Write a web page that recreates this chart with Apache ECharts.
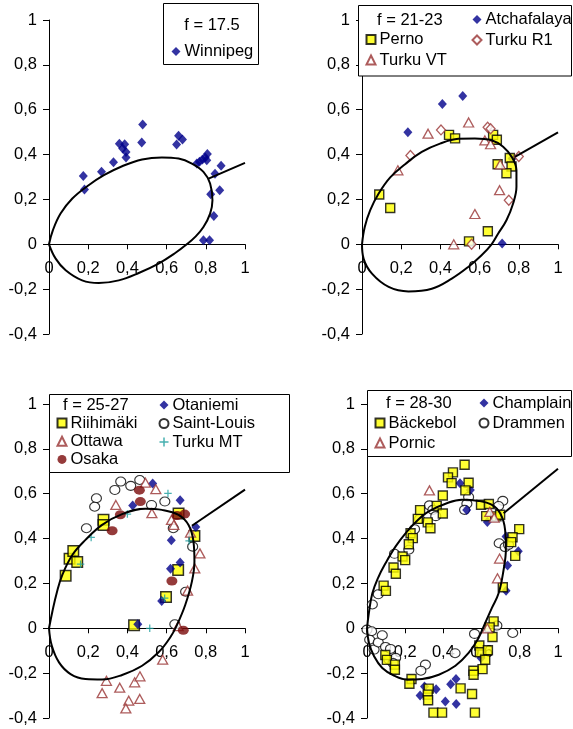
<!DOCTYPE html>
<html>
<head>
<meta charset="utf-8">
<script src="https://cdn.jsdelivr.net/npm/echarts@6/dist/echarts.min.js"></script>
<style>
  html, body { margin: 0; padding: 0; background: #fff; }
  #chart { width: 573px; height: 729px; }
</style>
</head>
<body>
<div id="chart"></div>
<script>
// tick labels of every panel
var xTicks = [0, 0.2, 0.4, 0.6, 0.8, 1];
var yTicks = [-0.4, -0.2, 0, 0.2, 0.4, 0.6, 0.8, 1];
var titles = ['f = 17.5', 'f = 21-23', 'f = 25-27', 'f = 28-30'];

// f = 17.5
var winnipeg = [[0.175,0.304],[0.181,0.244],[0.268,0.323],[0.329,0.366],[0.359,0.448],[0.386,0.446],[0.376,0.427],
  [0.393,0.412],[0.393,0.387],[0.473,0.454],[0.478,0.534],[0.651,0.445],[0.661,0.484],[0.681,0.467],[0.754,0.360],
  [0.768,0.368],[0.783,0.378],[0.797,0.387],[0.808,0.402],[0.805,0.375],[0.847,0.315],[0.878,0.350],[0.825,0.223],
  [0.871,0.241],[0.841,0.126],[0.788,0.018],[0.819,0.018]];
var curve1 = [[0,0],[0.02,0.063],[0.059,0.137],[0.119,0.204],[0.195,0.259],[0.28,0.308],[0.373,0.348],[0.475,0.378],
  [0.576,0.387],[0.661,0.382],[0.729,0.36],[0.788,0.323],[0.822,0.271],[0.834,0.196],[0.822,0.137],[0.788,0.077],
  [0.746,0.033],[0.703,0],[0.644,-0.039],[0.559,-0.086],[0.458,-0.128],[0.356,-0.161],[0.254,-0.173],[0.169,-0.161],
  [0.085,-0.116],[0.034,-0.064],[0,0]];
var tail1 = [[0.814,0.293],[1,0.363]];

// f = 21-23
var atchafalaya = [[0.234,0.5],[0.41,0.626],[0.514,0.661],[0.715,0.004],[0.766,0.382]];
var perno = [[0.088,0.222],[0.144,0.162],[0.444,0.488],[0.475,0.472],[0.669,0.488],[0.688,0.466],[0.754,0.385],
  [0.692,0.357],[0.763,0.347],[0.737,0.317],[0.642,0.058],[0.546,0.013]];
var turkuR1 = [[0.247,0.396],[0.403,0.51],[0.641,0.522],[0.656,0.515],[0.8,0.391],[0.749,0.196],[0.559,0]];
var turkuVT = [[0.183,0.33],[0.337,0.493],[0.544,0.543],[0.627,0.463],[0.656,0.446],[0.705,0.356],[0.702,0.241],
  [0.576,0.135],[0.468,0]];
var curve2 = [[0,0],[0.014,0.077],[0.042,0.152],[0.085,0.226],[0.144,0.298],[0.22,0.357],[0.305,0.412],[0.398,0.449],
  [0.492,0.47],[0.576,0.472],[0.661,0.464],[0.72,0.435],[0.766,0.387],[0.788,0.33],[0.788,0.256],[0.771,0.182],
  [0.737,0.107],[0.695,0.048],[0.661,0],[0.61,-0.049],[0.542,-0.101],[0.458,-0.153],[0.356,-0.198],[0.237,-0.21],
  [0.136,-0.19],[0.051,-0.131],[0.008,-0.064],[0,0]];
var tail2 = [[0.78,0.39],[1,0.499]];

// f = 25-27
var riihimaki = [[0.085,0.234],[0.105,0.31],[0.124,0.345],[0.144,0.295],[0.278,0.484],[0.278,0.461],[0.661,0.512],
  [0.742,0.412],[0.659,0.26],[0.597,0.14],[0.434,0.013]];
var otaniemi = [[0.529,0.646],[0.427,0.548],[0.669,0.571],[0.749,0.452],[0.624,0.393],[0.669,0.293],[0.62,0.265],
  [0.575,0.122],[0.453,0.018]];
var saintLouis = [[0.366,0.654],[0.336,0.617],[0.417,0.635],[0.463,0.661],[0.242,0.58],[0.233,0.542],[0.191,0.446],
  [0.523,0.55],[0.591,0.565],[0.634,0.446],[0.733,0.364],[0.697,0.163],[0.642,0.018]];
var ottawa = [[0.492,0.649],[0.545,0.62],[0.341,0.55],[0.525,0.513],[0.625,0.483],[0.637,0.461],[0.722,0.426],
  [0.77,0.334],[0.744,0.267],[0.707,0.168],[0.659,0.01],[0.58,-0.14],[0.293,-0.234],[0.271,-0.289],[0.361,-0.265],
  [0.437,-0.241],[0.464,-0.214],[0.463,-0.315],[0.407,-0.323],[0.392,-0.357]];
var turkuMT = [[0.607,0.601],[0.4,0.509],[0.215,0.405],[0.161,0.286],[0.715,0.39],[0.59,0.134],[0.514,0]];
var osaka = [[0.461,0.616],[0.466,0.565],[0.364,0.506],[0.322,0.435],[0.653,0.503],[0.692,0.509],[0.627,0.211],
  [0.685,-0.009]];
var curve3 = [[0,0],[0.017,0.074],[0.04,0.16],[0.068,0.238],[0.119,0.327],[0.186,0.394],[0.271,0.461],[0.373,0.509],
  [0.492,0.533],[0.576,0.528],[0.661,0.506],[0.712,0.461],[0.737,0.387],[0.742,0.298],[0.729,0.208],[0.695,0.104],
  [0.653,0.015],[0.619,-0.04],[0.559,-0.107],[0.475,-0.167],[0.373,-0.208],[0.271,-0.228],[0.186,-0.226],
  [0.11,-0.204],[0.051,-0.152],[0.014,-0.077],[0,0]];
var tail3 = [[0.729,0.457],[1,0.618]];

// f = 28-30
var backebol = [[0.511,0.729],[0.45,0.695],[0.424,0.673],[0.443,0.647],[0.532,0.649],[0.515,0.615],[0.397,0.592],
  [0.365,0.546],[0.278,0.527],[0.397,0.512],[0.266,0.488],[0.318,0.472],[0.332,0.446],[0.228,0.424],[0.24,0.402],
  [0.219,0.375],[0.186,0.32],[0.2,0.304],[0.139,0.271],[0.151,0.243],[0.087,0.19],[0.099,0.167],[0.597,0.551],
  [0.638,0.554],[0.624,0.5],[0.678,0.499],[0.697,0.506],[0.797,0.442],[0.762,0.406],[0.755,0.384],[0.776,0.323],
  [0.711,0.183],[0.663,0.031],[0.642,0.004],[0.657,-0.039],[0.588,-0.077],[0.591,-0.107],[0.633,-0.098],
  [0.619,-0.14],[0.605,-0.182],[0.557,-0.189],[0.558,-0.207],[0.49,-0.268],[0.55,-0.293],[0.565,-0.376],
  [0.233,-0.226],[0.222,-0.247],[0.323,-0.269],[0.318,-0.296],[0.32,-0.321],[0.348,-0.376],[0.393,-0.376],
  [0.096,-0.119],[0.104,-0.141],[0.146,-0.162],[0.146,-0.185]];
var champlain = [[0.487,0.647],[0.541,0.617],[0.522,0.527],[0.63,0.474],[0.728,0.409],[0.792,0.344],[0.736,0.28],
  [0.728,0.167],[0.278,-0.3],[0.301,-0.26],[0.362,-0.272],[0.438,-0.249],[0.466,-0.226],[0.41,-0.326],
  [0.467,-0.338],[0.597,-0.133]];
var drammen = [[0.711,0.568],[0.689,0.545],[0.532,0.585],[0.523,0.555],[0.511,0.528],[0.327,0.548],[0.345,0.528],
  [0.36,0.5],[0.275,0.487],[0.249,0.442],[0.219,0.35],[0.144,0.332],[0.059,0.152],[0.028,0.106],[0.692,0.379],
  [0.723,0.362],[0.741,0.372],[0,-0.006],[0.024,-0.013],[0.014,-0.051],[0.037,-0.095],[0.059,-0.063],[0.08,-0.031],
  [0.097,-0.083],[0.123,-0.092],[0.115,-0.14],[0.15,-0.132],[0.136,-0.155],[0.306,-0.162],[0.282,-0.189],
  [0.461,-0.111],[0.563,-0.025],[0.68,0.012],[0.763,-0.021]];
var pornic = [[0.327,0.615],[0.643,0.519],[0.666,0.493],[0.694,0.311],[0.683,0.223],[0.63,0]];
var curve4 = [[0,0],[0.01,0.07],[0.028,0.156],[0.058,0.225],[0.097,0.29],[0.15,0.365],[0.21,0.432],[0.265,0.482],
  [0.323,0.521],[0.428,0.561],[0.497,0.573],[0.584,0.568],[0.652,0.551],[0.697,0.513],[0.723,0.439],[0.727,0.35],
  [0.715,0.26],[0.689,0.156],[0.654,0.091],[0.619,0.024],[0.584,-0.043],[0.532,-0.11],[0.463,-0.167],
  [0.376,-0.207],[0.289,-0.226],[0.21,-0.229],[0.141,-0.211],[0.08,-0.177],[0.037,-0.125],[0.01,-0.065],[0,0]];
var tail4 = [[0.715,0.513],[1,0.711]];

var FONT = 'Liberation Sans, Arial, sans-serif';
var FS = 16.5;
var NAVY = '#00008b', DRED = '#993333', MAROON = '#7a0a0a', TEAL = '#1a9c9c';
var PLUS = 'path://M3,0H4.2V3H7.2V4.2H4.2V7.2H3V4.2H0V3H3Z';

// symbol looks
var sty = {
  navy:   { symbol: 'diamond', symbolSize: [9, 10], itemStyle: { color: NAVY } },
  square: { symbol: 'rect', symbolSize: 9, itemStyle: { color: '#ffff00', borderColor: '#000', borderWidth: 1.4 } },
  bigsq:  { symbol: 'rect', symbolSize: 10.5, itemStyle: { color: '#ffff00', borderColor: '#000', borderWidth: 1.5 } },
  odiam:  { symbol: 'diamond', symbolSize: [9, 10], itemStyle: { color: '#fff', borderColor: DRED, borderWidth: 1.3 } },
  tri:    { symbol: 'triangle', symbolSize: [10, 9], itemStyle: { color: '#fff', borderColor: DRED, borderWidth: 1.3 } },
  ocirc:  { symbol: 'circle', symbolSize: [10, 9], itemStyle: { color: '#fff', borderColor: '#000', borderWidth: 1.1 } },
  osaka:  { symbol: 'circle', symbolSize: [11, 9], itemStyle: { color: MAROON } },
  plus:   { symbol: PLUS, symbolSize: 7.5, itemStyle: { color: TEAL } }
};

function scatter(name, data, idx, look) {
  var s = sty[look];
  return { name: name, type: 'scatter', xAxisIndex: idx, yAxisIndex: idx, data: data,
    symbol: s.symbol, symbolSize: s.symbolSize, itemStyle: s.itemStyle };
}
function curve(data, idx, smooth) {
  return { type: 'line', xAxisIndex: idx, yAxisIndex: idx, data: data, smooth: smooth,
    showSymbol: false, silent: true, lineStyle: { color: '#000', width: 2 } };
}

var grids = [
  { left: 49, top: 20, width: 196, height: 314 },
  { left: 362, top: 20, width: 196, height: 314 },
  { left: 49, top: 404, width: 196, height: 314 },
  { left: 367, top: 404, width: 191, height: 314 }
];

function fmt(v) { return String(Math.round(v * 10) / 10).replace('.', ','); }

var yMin = yTicks[0], yMax = yTicks[yTicks.length - 1];
var xAxes = [], yAxes = [];
grids.forEach(function (g, i) {
  // x axis crosses at y = 0: shift the bottom axis up to the zero line
  var zeroShift = -g.height * (0 - yMin) / (yMax - yMin);
  xAxes.push({ type: 'value', gridIndex: i, min: xTicks[0], max: xTicks[xTicks.length - 1], interval: 0.2,
    offset: zeroShift,
    axisLine: { onZero: false, lineStyle: { color: '#000', width: 1 } },
    axisTick: { length: 5, lineStyle: { color: '#000' } },
    axisLabel: { margin: 16, fontSize: FS, fontFamily: FONT, color: '#000', formatter: fmt },
    splitLine: { show: false } });
  yAxes.push({ type: 'value', gridIndex: i, min: yMin, max: yMax, interval: 0.2,
    axisLine: { show: true, lineStyle: { color: '#000', width: 1 } },
    axisTick: { show: true, length: 6, lineStyle: { color: '#000' } },
    axisLabel: { margin: 12, fontSize: FS, fontFamily: FONT, color: '#000', formatter: fmt },
    splitLine: { show: false } });
});

var series = [
  curve(curve1, 0, 0.4), curve(tail1, 0, false),
  scatter('Winnipeg', winnipeg, 0, 'navy'),

  curve(curve2, 1, 0.4), curve(tail2, 1, false),
  scatter('Atchafalaya', atchafalaya, 1, 'navy'),
  scatter('Perno', perno, 1, 'square'),
  scatter('Turku R1', turkuR1, 1, 'odiam'),
  scatter('Turku VT', turkuVT, 1, 'tri'),

  curve(curve3, 2, 0.4), curve(tail3, 2, false),
  scatter('Saint-Louis', saintLouis, 2, 'ocirc'),
  scatter('Riihimäki', riihimaki, 2, 'bigsq'),
  scatter('Otaniemi', otaniemi, 2, 'navy'),
  scatter('Ottawa', ottawa, 2, 'tri'),
  scatter('Turku MT', turkuMT, 2, 'plus'),
  scatter('Osaka', osaka, 2, 'osaka'),

  curve(curve4, 3, 0.4), curve(tail4, 3, false),
  scatter('Drammen', drammen, 3, 'ocirc'),
  scatter('Champlain', champlain, 3, 'navy'),
  scatter('Bäckebol', backebol, 3, 'square'),
  scatter('Pornic', pornic, 3, 'tri')
];

function legend(names, left, top, gap) {
  return { data: names, orient: 'vertical', left: left, top: top, itemGap: gap, padding: 0, z: 110,
    itemWidth: 9, itemHeight: 9, selectedMode: false,
    textStyle: { fontSize: FS, fontFamily: FONT, color: '#000', lineHeight: 17, padding: [0, 0, 0, -1] } };
}

var legends = [
  legend(['Winnipeg'], 171.5, 43, 0),
  legend(['Perno', 'Turku VT'], 365.5, 31, 3.5),
  legend(['Atchafalaya', 'Turku R1'], 471.5, 11, 3.5),
  legend(['Riihimäki', 'Ottawa', 'Osaka'], 56.5, 414.5, 1.2),
  legend(['Otaniemi', 'Saint-Louis', 'Turku MT'], 158.5, 396.5, 1.5),
  legend(['Bäckebol', 'Pornic'], 374.5, 414.5, 3),
  legend(['Champlain', 'Drammen'], 478.5, 394.5, 3)
];

function box(x, y, w, h) {
  return { type: 'rect', z: 100, shape: { x: x, y: y, width: w, height: h },
    style: { fill: '#fff', stroke: '#000', lineWidth: 1 } };
}
function label(t, x, y, align) {
  return { type: 'text', z: 110, style: { text: t, x: x, y: y, align: align, verticalAlign: 'middle',
    font: FS + 'px ' + FONT, fill: '#000' } };
}

var chart = echarts.init(document.getElementById('chart'), null, { renderer: 'canvas' });
chart.setOption({
  animation: false,
  backgroundColor: '#fff',
  grid: grids,
  xAxis: xAxes,
  yAxis: yAxes,
  legend: legends,
  series: series,
  graphic: [
    box(163.5, 3.5, 95, 61), label(titles[0], 212, 25, 'center'),
    box(358.5, 5.5, 213, 70.5), label(titles[1], 377, 20, 'left'),
    box(49.5, 394.5, 240, 78), label(titles[2], 63, 405, 'left'),
    box(367.5, 390.5, 204, 66), label(titles[3], 386, 403, 'left')
  ]
});
</script>
</body>
</html>
